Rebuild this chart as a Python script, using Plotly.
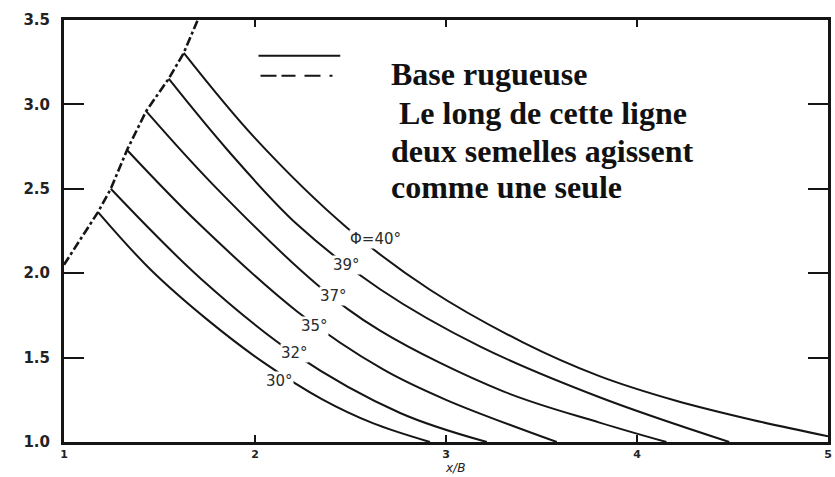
import plotly.graph_objects as go

# Bearing-ratio curves for interfering strip footings (rough base), by friction angle
x_phi40 = [1.627, 2.0, 2.483, 2.916, 3.4, 3.8, 4.2, 4.6, 5.0]
y_phi40 = [3.305, 2.80, 2.268, 1.902, 1.592, 1.392, 1.246, 1.132, 1.034]

x_phi39 = [1.548, 1.856, 2.22, 2.655, 3.18, 3.804, 4.483]
y_phi39 = [3.152, 2.73, 2.29, 1.905, 1.565, 1.265, 1.0]

x_phi37 = [1.43, 1.78, 2.326, 2.655, 3.3, 3.804, 4.154]
y_phi37 = [2.96, 2.525, 1.932, 1.66, 1.30, 1.115, 1.0]

x_phi35 = [1.33, 1.70, 2.222, 2.671, 3.0, 3.58]
y_phi35 = [2.73, 2.30, 1.772, 1.43, 1.25, 1.0]

x_phi32 = [1.245, 1.715, 2.21, 2.76, 3.214]
y_phi32 = [2.50, 1.969, 1.519, 1.172, 1.0]

x_phi30 = [1.178, 1.45, 1.75, 2.05, 2.35, 2.62, 2.916]
y_phi30 = [2.362, 2.025, 1.725, 1.467, 1.254, 1.11, 1.0]

curves_x = [x_phi40, x_phi39, x_phi37, x_phi35, x_phi32, x_phi30]
curves_y = [y_phi40, y_phi39, y_phi37, y_phi35, y_phi32, y_phi30]

phi_labels = ["Φ=40°", "39°", "37°", "35°", "32°", "30°"]
label_x = [2.63, 2.478, 2.41, 2.311, 2.206, 2.128]
label_y = [2.203, 2.05, 1.867, 1.69, 1.525, 1.36]

# Limit line: the two footings act as one along it
limit_x = [1.0] + [cx[0] for cx in reversed(curves_x)] + [1.70]
limit_y = [2.05] + [cy[0] for cy in reversed(curves_y)] + [3.50]

x_ticks = [1, 2, 3, 4, 5]
y_ticks = [1.0, 1.5, 2.0, 2.5, 3.0, 3.5]
y_ticktext = ["1.0", "1.5", "2.0", "2.5", "3.0", "3.5"]

legend_lines = ["Base rugueuse", "\u00a0Le long de cette ligne", "deux semelles agissent", "comme une seule"]
legend_line_tops = [0.9186, 0.8281, 0.7377, 0.6512]

INK = "#151515"
fig = go.Figure()

fig.add_trace(go.Scatter(
    x=limit_x, y=limit_y, mode="lines",
    line=dict(color=INK, width=2.6, dash="9px,3px,3px,3px"),
    hoverinfo="skip", showlegend=False,
))

for cx, cy, name in zip(curves_x, curves_y, phi_labels):
    fig.add_trace(go.Scatter(
        x=cx, y=cy, mode="lines", name=name,
        line=dict(color=INK, width=2, shape="spline", smoothing=1.0),
        showlegend=False,
    ))

# Curve labels sit in breaks of their lines (white box hides the line beneath)
for lx, ly, txt in zip(label_x, label_y, phi_labels):
    fig.add_annotation(
        x=lx, y=ly, xref="x", yref="y", text=txt, showarrow=False,
        font=dict(family="DejaVu Sans", size=15, color="#2a2a2a"),
        bgcolor="white", borderpad=0,
    )

# Legend keys drawn by hand with the explanatory text beside them
fig.add_shape(type="line", xref="paper", yref="paper",
              x0=0.2546, x1=0.3616, y0=0.9151, y1=0.9151,
              line=dict(color=INK, width=2))
fig.add_shape(type="line", xref="paper", yref="paper",
              x0=0.2572, x1=0.359, y0=0.8679, y1=0.8679,
              line=dict(color=INK, width=2, dash="16px,5px,14px,9px,16px,9px,3px"))

for txt, top in zip(legend_lines, legend_line_tops):
    fig.add_annotation(
        x=0.4256, y=top, xref="paper", yref="paper",
        xanchor="left", yanchor="top", align="left", showarrow=False,
        text=txt,
        font=dict(family="Liberation Serif", size=32, color="#111111", weight="bold"),
    )

# Axis title under the x tick labels
fig.add_annotation(
    x=0.512, y=-0.0802, xref="paper", yref="paper",
    xanchor="center", yanchor="bottom", showarrow=False, borderpad=0,
    text="<i>x/B</i>",
    font=dict(family="DejaVu Sans", size=12, color="#222222"),
)

axis_common = dict(
    showgrid=False, zeroline=False, showline=True, linecolor=INK,
    linewidth=3, mirror="ticks", ticks="inside", tickcolor=INK, tickwidth=2,
    automargin=False,
)

fig.update_xaxes(
    range=[1, 5], tickvals=x_ticks, ticklen=7, ticklabelstandoff=0,
    tickfont=dict(family="DejaVu Sans", size=11, color="#222222", weight="bold"),
    **axis_common,
)
fig.update_yaxes(
    range=[1, 3.5], tickvals=y_ticks, ticktext=y_ticktext, ticklen=20,
    ticklabelstandoff=8,
    tickfont=dict(family="DejaVu Sans", size=15, color="#222222", weight="bold"),
    **axis_common,
)

fig.update_layout(
    width=835, height=477,
    margin=dict(l=64, r=7, t=20, b=35),
    paper_bgcolor="white", plot_bgcolor="white",
    showlegend=False,
)

fig.write_html("out.html")
